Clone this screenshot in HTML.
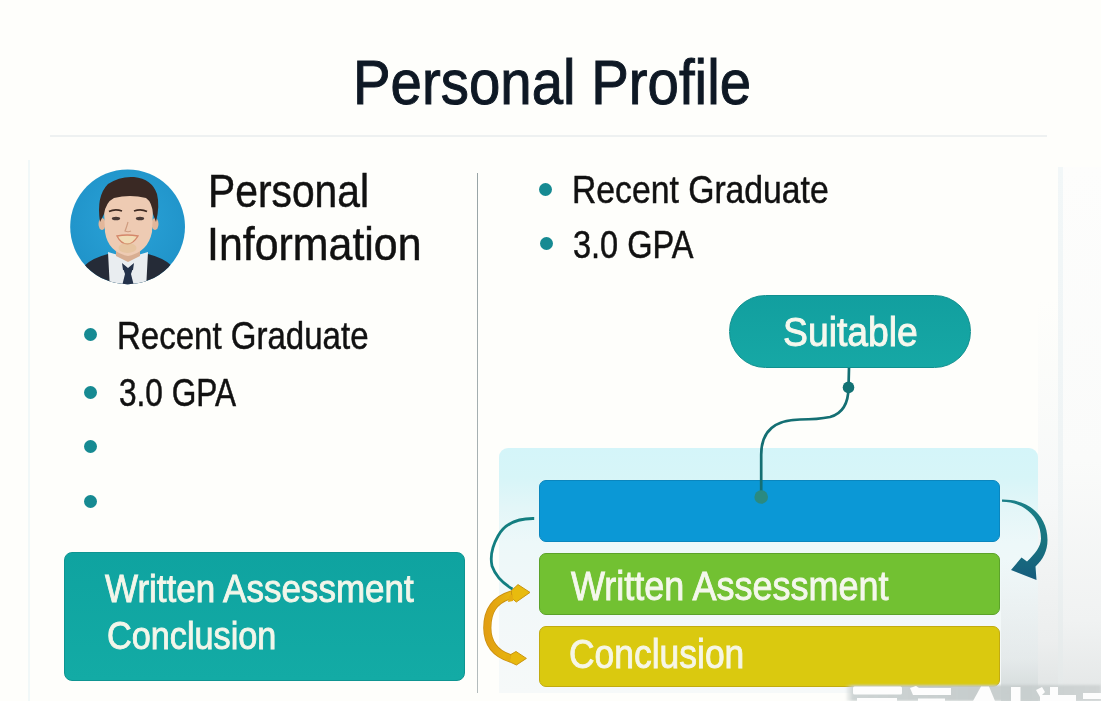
<!DOCTYPE html>
<html><head><meta charset="utf-8">
<style>
*{margin:0;padding:0;box-sizing:border-box}
html,body{width:1101px;height:701px;overflow:hidden;background:#fefefb;font-family:"Liberation Sans",sans-serif}
.a{position:absolute}
.t{position:absolute;white-space:nowrap;line-height:1;transform-origin:0 0}
.dot{position:absolute;width:13px;height:13px;border-radius:50%;background:#168a92}
</style></head><body>

<!-- faint card -->
<div class="a" style="left:50px;top:135px;width:997px;height:1.5px;background:#eef1f1"></div>
<div class="a" style="left:28px;top:160px;width:2px;height:541px;background:#f1f8f8"></div>
<div class="a" style="left:1038px;top:300px;width:20px;height:401px;background:linear-gradient(180deg,rgba(245,247,247,0),#f6f8f8 50%,#eceeee 85%,#dfe3e3 100%)"></div>
<div class="a" style="left:1058px;top:167px;width:43px;height:534px;background:linear-gradient(180deg,#fdfdfc,#fafbfa 55%,#f0f2f2 85%,#e3e6e6 100%)"></div>
<div class="a" style="left:1058px;top:167px;width:5px;height:534px;background:linear-gradient(180deg,#f2f7f8,#eef3f4 70%,#e4e8e8)"></div>

<!-- title -->
<div class="t" style="left:353.03px;top:51.2px;font-size:63px;color:#0e1824;-webkit-text-stroke:1.0px #0e1824;transform:scaleX(0.895)">Personal Profile</div>

<!-- avatar -->
<svg class="a" style="left:0;top:0" width="300" height="300" viewBox="0 0 300 300">
  <defs><clipPath id="cc"><circle cx="127.6" cy="226.8" r="57.4"/></clipPath>
  <radialGradient id="bg" cx="0.5" cy="0.45" r="0.6"><stop offset="0" stop-color="#2aa3d8"/><stop offset="1" stop-color="#1f92c8"/></radialGradient></defs>
  <circle cx="127.6" cy="226.8" r="57.4" fill="url(#bg)"/>
  <g clip-path="url(#cc)">
    <!-- suit -->
    <path d="M78 300 L84 266 Q92 258 108 254 L128 262 L148 254 Q164 258 172 266 L178 300Z" fill="#252b37"/>
    <!-- shirt -->
    <path d="M108 252 L110 290 L146 290 L148 252 L128 258Z" fill="#e9edf0"/>
    <!-- neck -->
    <path d="M116 244 L140 244 L140 256 L128 262 L116 256Z" fill="#d8ae92"/>
    <!-- tie -->
    <path d="M123 268 L133 268 L131 274 L135 290 L121 290 L125 274Z" fill="#24324a"/>
    <path d="M122 263 L128 268 L134 263 L133 270 L123 270Z" fill="#24324a"/>
    <!-- ears -->
    <ellipse cx="102" cy="224" rx="3.5" ry="6" fill="#e2b79b"/>
    <ellipse cx="155" cy="224" rx="3.5" ry="6" fill="#e2b79b"/>
    <!-- face -->
    <path d="M104 210 Q104 192 128 190 Q153 192 153 210 L152 232 Q148 252 128 256 Q108 252 105 232Z" fill="#eecbb3"/>
    <!-- hair -->
    <path d="M100 222 Q96 196 108 184 Q120 176 134 177 Q152 179 157 194 Q160 206 156 222 L153 214 Q152 202 146 198 Q130 194 114 198 Q106 202 104 214Z" fill="#3a2924"/>
    <!-- brows & eyes -->
    <path d="M109 211.5 Q115 208.5 122 211" stroke="#3e2a22" stroke-width="1.8" fill="none"/>
    <path d="M134 211 Q141 208.5 147 211.5" stroke="#3e2a22" stroke-width="1.8" fill="none"/>
    <ellipse cx="116" cy="218.5" rx="4.2" ry="1.8" fill="#4a3a35"/>
    <ellipse cx="140" cy="218.5" rx="4.2" ry="1.8" fill="#4a3a35"/>
    <!-- nose -->
    <path d="M128 222 Q126 229 125 231 Q128 232.5 131 231" stroke="#cf9c80" stroke-width="1.2" fill="none"/>
    <!-- mouth -->
    <path d="M117 236 Q127 234 138 236 Q133 244 127.5 244 Q121 244 117 236Z" fill="#f1dcb5" stroke="#d4876a" stroke-width="1.4"/>
    <ellipse cx="127.5" cy="248" rx="9" ry="5" fill="#e0c090" opacity="0.5"/>
  </g>
</svg>

<!-- heading -->
<div class="t" style="left:208.41px;top:169.2px;font-size:45.5px;color:#111;-webkit-text-stroke:0.5px #111;transform:scaleX(0.8966)">Personal</div>
<div class="t" style="left:206.83px;top:222.4px;font-size:45.5px;color:#111;-webkit-text-stroke:0.5px #111;transform:scaleX(0.9425)">Information</div>

<!-- left bullets -->
<div class="dot" style="left:83.5px;top:328px"></div>
<div class="dot" style="left:83.5px;top:386px"></div>
<div class="dot" style="left:83.5px;top:439.5px"></div>
<div class="dot" style="left:83.5px;top:494.5px"></div>
<div class="t" style="left:117.19px;top:315.8px;font-size:39.5px;color:#111;-webkit-text-stroke:0.5px #111;transform:scaleX(0.8361)">Recent Graduate</div>
<div class="t" style="left:119.1px;top:373.2px;font-size:39.5px;color:#111;-webkit-text-stroke:0.5px #111;transform:scaleX(0.8)">3.0 GPA</div>

<!-- left box -->
<div class="a" style="left:64.3px;top:551.5px;width:400.5px;height:129px;border-radius:8px;background:linear-gradient(180deg,#0fa3a0,#13aba5);border:1px solid #0e9592"></div>
<div class="t" style="left:104.5px;top:569.3px;font-size:39px;color:#f3f6ea;-webkit-text-stroke:0.9px #f3f6ea;transform:scaleX(0.8977)">Written Assessment</div>
<div class="t" style="left:106.84px;top:616.0px;font-size:39px;color:#f3f6ea;-webkit-text-stroke:0.9px #f3f6ea;transform:scaleX(0.8778)">Conclusion</div>

<!-- divider -->
<div class="a" style="left:476.5px;top:173px;width:1.6px;height:520px;background:linear-gradient(180deg,#98a4a6,#b4bcbd)"></div>

<!-- right bullets -->
<div class="dot" style="left:538.5px;top:182.7px"></div>
<div class="dot" style="left:539.5px;top:237.1px"></div>
<div class="t" style="left:571.94px;top:169.6px;font-size:39.5px;color:#111;-webkit-text-stroke:0.5px #111;transform:scaleX(0.8534)">Recent Graduate</div>
<div class="t" style="left:572.88px;top:224.6px;font-size:39.5px;color:#111;-webkit-text-stroke:0.5px #111;transform:scaleX(0.8228)">3.0 GPA</div>

<!-- suitable pill -->
<div class="a" style="left:728.8px;top:295.3px;width:242px;height:72.6px;border-radius:36.3px;background:linear-gradient(180deg,#129f9f,#16a8a5);border:1px solid #10908f"></div>
<div class="t" style="left:783.33px;top:312.2px;font-size:40px;color:#f6f8ee;-webkit-text-stroke:0.9px #f6f8ee;transform:scaleX(0.9326)">Suitable</div>

<!-- light panel -->
<div class="a" style="left:499px;top:448px;width:539px;height:245px;border-radius:9px 9px 0 0;background:linear-gradient(180deg,#d4f5f9 0px,#d7f5f8 30px,#e3f6f8 60px,#edf8f9 95px,#f2f8f9 160px,#f6f9f9 245px)"></div>
<div class="a" style="left:1001px;top:560px;width:37px;height:141px;background:linear-gradient(180deg,rgba(216,222,223,0),rgba(216,222,223,0.55) 70%,rgba(205,212,212,0.9))"></div>

<!-- bars -->
<div class="a" style="left:538.5px;top:479.5px;width:461.5px;height:62.3px;border-radius:7px;background:#0b98d6;border:1px solid #0a86be"></div>
<div class="a" style="left:538.5px;top:553px;width:461.5px;height:62px;border-radius:7px;background:#72c132;border:1px solid #5ca22a"></div>
<div class="a" style="left:538.5px;top:625.5px;width:461.5px;height:61px;border-radius:7px;background:#dac90f;border:1px solid #c2ab10"></div>
<div class="t" style="left:570.6px;top:566.0px;font-size:41px;color:#f4f7ec;-webkit-text-stroke:0.9px #f4f7ec;transform:scaleX(0.8782)">Written Assessment</div>
<div class="t" style="left:569.37px;top:634.0px;font-size:41px;color:#f6f6e6;-webkit-text-stroke:0.9px #f6f6e6;transform:scaleX(0.8643)">Conclusion</div>

<!-- connectors -->
<svg class="a" style="left:0;top:0" width="1101" height="701" viewBox="0 0 1101 701">
  <path d="M849 368 L848.5 387 Q848.5 412 830 417 Q818 419.5 800 419.5 Q761 420 761.2 455 L761.2 497" stroke="#146f73" stroke-width="2.7" fill="none"/>
  <circle cx="848.5" cy="387.4" r="5.8" fill="#137274"/>
  <circle cx="761.2" cy="497" r="6.8" fill="#2a8a80"/>
  <!-- teal left curve -->
  <path d="M534.2 518.5 Q508 518 498 536 Q489 552 492 566 Q497 580 512.5 589" stroke="#137e80" stroke-width="2.8" fill="none"/>
  <!-- orange curve -->
  <defs><linearGradient id="og" x1="0" y1="0" x2="1" y2="0"><stop offset="0" stop-color="#e29f12"/><stop offset="1" stop-color="#e8b80e"/></linearGradient></defs>
  <path d="M512 594.5 C493 600 487.3 612 487.3 628 C487.5 644 496 654 511 658.5" stroke="#c98f10" stroke-width="8.2" fill="none"/>
  <path d="M512 594.5 C493 600 487.3 612 487.3 628 C487.5 644 496 654 511 658.5" stroke="url(#og)" stroke-width="6.6" fill="none"/>
  <path d="M518 584.6 L530 592.4 L516.3 602 L511.5 598 L511.5 590.5Z" fill="#e8bb0e" stroke="#c99512" stroke-width="1" stroke-linejoin="round"/>
  <path d="M516 651.5 L526.4 658.4 L516.4 665 L509 661.5 L510.8 654.5Z" fill="#e8b90e" stroke="#c99512" stroke-width="1" stroke-linejoin="round"/>
  <path d="M509 596 L513 594 L513 601 L508 602Z" fill="#e4ad10"/>
  <path d="M506 655 L511 655.5 L510 661.5 L505 660Z" fill="#e4ad10"/>
  <!-- blue right arrow -->
  <defs><linearGradient id="bag" x1="0" y1="0" x2="0" y2="1"><stop offset="0" stop-color="#1a8088"/><stop offset="0.55" stop-color="#18727f"/><stop offset="1" stop-color="#165c7d"/></linearGradient></defs>
  <path d="M1002 499.5 C1029 499 1047.5 516 1047.5 540 C1047.5 551 1043 559.5 1035.5 566.5 L1036.5 580 L1011 570 L1021.5 557.5 L1027 561.5 C1035 554 1041 546.5 1041 538.5 C1041 518 1025 502 1002 501.8Z" fill="url(#bag)"/>
</svg>

<!-- watermark -->
<div class="a" style="left:845px;top:685px;width:256px;height:16px;background:linear-gradient(90deg,rgba(205,211,211,0),rgba(200,207,207,0.9) 8px,rgba(196,203,203,0.95) 50%,rgba(205,210,210,0.9));filter:blur(1px)"></div>
<svg class="a" style="left:0;top:0" width="1101" height="701" viewBox="0 0 1101 701">
 <g fill="#fdfdfd">
  <rect x="853" y="686.5" width="49" height="8" rx="1.5"/>
  <rect x="857" y="698" width="40" height="4"/>
  <path d="M910 688 L916 686 L919 688 L951 688 L951 695 L913 695Z"/>
  <rect x="918" y="698.5" width="27" height="3"/>
  <path d="M973 701 L981 686.5 L989 686.5 L995 701Z"/>
  <rect x="1011" y="687" width="9.5" height="14"/>
  <path d="M1036 690 L1042 687 L1045 692 L1040 697Z"/>
  <rect x="1050" y="687" width="8" height="14"/>
  <rect x="1040" y="695" width="36" height="6"/>
  <rect x="1083" y="693" width="18" height="6"/>
 </g>
</svg>
</body></html>
